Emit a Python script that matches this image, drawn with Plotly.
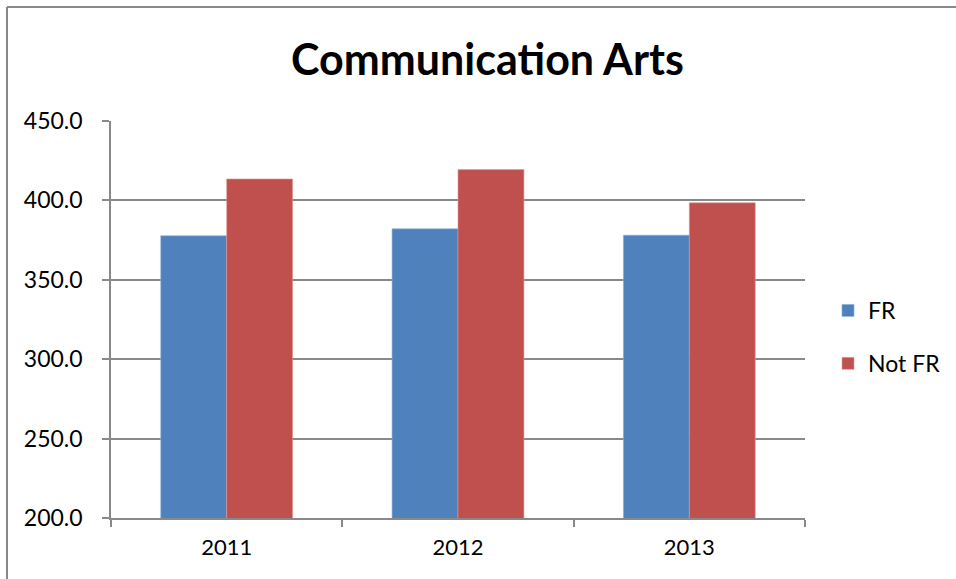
import plotly.graph_objects as go

years = ["2011", "2012", "2013"]
fr_values = [377.7, 382.1, 378.1]
not_fr_values = [413.5, 419.4, 398.5]
series_names = ["FR", "Not FR"]
title_text = "Communication Arts"

W, H = 956, 579
L, R, T, B = 111, 151, 121, 61
pw, ph = W - L - R, H - T - B

FONT = "Lato, 'Open Sans', sans-serif"
GRID = "#898989"

fig = go.Figure()
fig.add_trace(go.Bar(x=years, y=fr_values, name=series_names[0], legendgroup="a",
                     marker=dict(color="#4F81BD", line=dict(color="#8FAEDA", width=0.6))))
fig.add_trace(go.Bar(x=years, y=not_fr_values, name=series_names[1], legendgroup="b",
                     marker=dict(color="#C0504D", line=dict(color="#DD9A98", width=0.6))))

# outer chart border (top/left visible, cropped on right/bottom)
bx0 = (7 - L) / pw
by1 = (H - B - 7) / ph
fig.add_shape(type="line", xref="paper", yref="paper", x0=bx0, x1=bx0, y0=-1, y1=by1,
              line=dict(color=GRID, width=2))
fig.add_shape(type="line", xref="paper", yref="paper", x0=bx0, x1=2, y0=by1, y1=by1,
              line=dict(color=GRID, width=2))

fig.update_layout(
    width=W, height=H,
    margin=dict(l=L, r=R, t=T, b=B, autoexpand=False),
    paper_bgcolor="white", plot_bgcolor="white",
    barmode="group", bargap=0.43, bargroupgap=0,
    title=dict(text="<b>" + title_text + "</b>", x=487.5 / W, xanchor="center",
               y=1 - 60 / H, yanchor="middle",
               font=dict(family=FONT, size=43, color="black")),
    font=dict(family=FONT, size=22, color="black"),
    showlegend=True,
    legend=dict(x=(828 - L) / pw, xanchor="left", y=(H - B - 337) / ph, yanchor="middle",
                font=dict(family=FONT, size=23, color="black"),
                traceorder="grouped", tracegroupgap=20,
                bgcolor="rgba(0,0,0,0)", itemwidth=30),
    xaxis=dict(showgrid=False, showline=True, linecolor=GRID, linewidth=1.5,
               ticks="outside", ticklen=7, tickcolor=GRID, tickwidth=1.5,
               tickson="boundaries", tickfont=dict(family=FONT, size=22),
               ticklabelstandoff=9),
    yaxis=dict(range=[200, 450], dtick=50, tickformat=".1f",
               showgrid=True, gridcolor=GRID, gridwidth=1.5,
               showline=True, linecolor=GRID, linewidth=1.5,
               ticks="outside", ticklen=7, tickcolor=GRID, tickwidth=1.5,
               tickfont=dict(family=FONT, size=23), ticklabelstandoff=15,
               zeroline=False),
)

fig.write_html("out.html")
